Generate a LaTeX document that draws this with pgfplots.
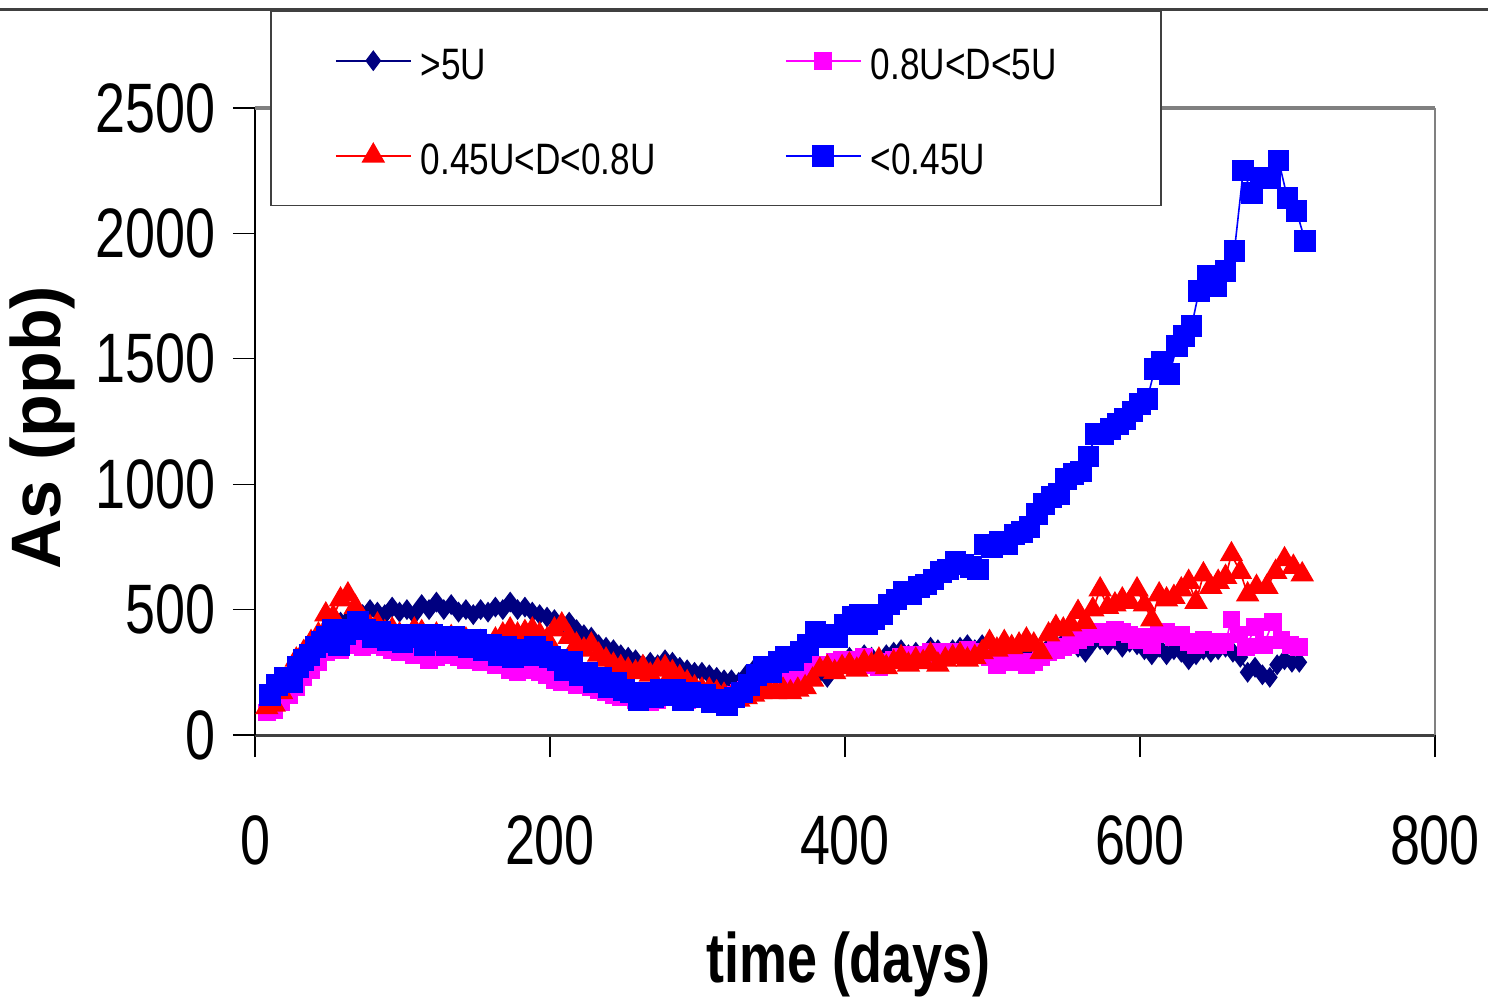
\documentclass[border=0pt]{standalone}
\usepackage{fontspec}
\setmainfont{Liberation Sans}
\newfontfamily\narrowfont{Liberation Sans}[FakeStretch=0.77]
\newfontfamily\legendfont{Liberation Sans}[FakeStretch=0.8]
\usepackage{pgfplots}
\pgfplotsset{compat=1.18}
\definecolor{navy}{RGB}{0,0,128}
\definecolor{pink}{RGB}{255,0,255}

\pgfplotstableread{
day val
8 120
13 150
18 190
23 230
28 270
33 300
38 340
43 370
48 400
53 430
58 450
63 460
68 470
73 480
78 500
83 490
88 480
93 510
98 490
103 500
108 480
113 520
118 500
123 530
128 500
133 520
138 490
143 500
148 480
153 500
158 490
163 510
168 500
173 530
178 500
183 510
188 490
193 480
198 470
203 460
208 440
213 450
218 420
223 400
228 390
233 360
238 350
243 340
248 320
253 310
258 300
263 280
268 290
273 280
278 300
283 290
288 270
293 260
298 250
303 250
308 240
313 230
318 220
323 220
328 210
333 240
338 260
343 230
348 240
353 220
358 230
363 240
368 250
373 240
378 260
383 250
388 230
393 270
398 280
403 310
408 300
413 320
418 310
423 290
428 320
433 330
438 340
443 320
448 330
453 310
458 350
463 340
468 320
473 340
478 350
483 360
488 340
493 360
498 370
503 330
508 320
513 340
518 330
523 320
528 340
533 330
538 350
543 360
548 370
553 380
558 350
563 330
568 370
573 380
578 360
583 380
588 350
593 370
598 360
603 340
608 320
613 350
618 320
623 340
628 330
633 300
638 320
643 340
648 330
653 340
658 350
663 330
668 310
673 250
678 270
683 240
688 230
693 280
698 300
703 290
708 290
}\navytable

\pgfplotstableread{
day val
8 90
13 100
18 130
23 160
28 190
33 230
38 260
43 290
48 330
53 350
58 340
63 360
68 370
73 350
78 360
83 370
88 350
93 340
98 330
103 340
108 320
113 330
118 300
123 310
128 320
133 330
138 310
143 300
148 310
153 290
158 300
163 280
168 290
173 260
178 250
183 270
188 260
193 250
198 240
203 220
208 210
213 220
218 200
223 210
228 190
233 180
238 170
243 160
248 150
253 160
258 140
263 150
268 130
273 140
278 150
283 160
288 150
293 140
298 150
303 160
308 170
313 160
318 150
323 160
328 170
333 180
338 190
343 200
348 210
353 220
358 230
363 240
368 250
373 250
378 270
383 280
388 280
393 290
398 300
403 290
408 300
413 310
418 280
423 270
428 290
433 300
438 310
443 320
448 320
453 310
458 330
463 320
468 330
473 320
478 330
483 340
488 330
493 320
498 310
503 280
508 290
513 300
518 290
523 280
528 290
533 310
538 330
543 340
548 350
553 360
558 380
563 390
568 400
573 410
578 390
583 420
588 410
593 400
598 380
603 390
608 360
613 400
618 410
623 390
628 400
633 370
638 360
643 380
648 370
653 360
658 370
662 460
667 400
672 350
678 430
684 360
690 450
696 380
702 360
708 350
}\magtable

\pgfplotstableread{
day val
8 110
13 120
18 170
23 230
28 300
33 330
38 370
43 400
48 480
53 470
58 540
63 560
68 510
73 460
78 430
83 440
88 410
93 420
98 400
103 390
108 420
113 410
118 380
123 400
128 380
133 390
138 370
143 380
148 360
153 370
158 350
163 380
168 400
173 420
178 400
183 410
188 420
193 400
198 380
203 420
208 440
213 390
218 360
223 340
228 360
233 320
238 300
243 280
248 270
253 260
258 250
263 270
268 240
273 260
278 270
283 250
288 230
293 210
298 190
303 180
308 180
313 170
318 160
323 150
328 140
333 150
338 160
343 170
348 180
353 170
358 180
363 170
368 180
373 190
378 220
383 260
388 270
393 250
398 270
403 280
408 260
413 290
418 280
423 300
428 270
433 290
438 310
443 280
448 300
453 290
458 320
463 280
468 300
473 310
478 320
483 300
488 310
493 330
498 370
503 340
508 370
513 350
518 360
523 380
528 360
533 330
538 400
543 430
548 420
553 440
558 490
563 450
568 500
573 580
578 510
583 520
588 540
593 530
598 580
603 520
608 460
613 560
618 540
623 550
628 580
633 610
638 530
643 640
648 590
653 610
658 630
662 720
668 650
673 560
679 590
686 590
692 650
698 700
704 670
710 640
}\redtable

\pgfplotstableread{
day val
10 160
15 200
20 230
25 210
29 270
33 300
37 320
41 350
45 370
49 390
53 420
57 360
61 400
65 420
70 450
75 420
80 390
85 410
90 380
95 400
100 370
105 400
110 390
115 360
120 400
125 380
130 360
135 390
140 370
145 350
150 380
155 340
160 360
165 320
170 350
175 310
180 340
185 320
190 350
195 330
200 310
205 300
210 260
215 290
220 240
225 250
230 210
235 230
240 190
245 210
250 180
255 170
260 140
265 170
270 150
275 180
280 160
285 180
290 140
295 170
300 150
305 160
310 130
315 140
320 120
325 150
330 170
335 200
340 240
345 270
350 250
355 290
360 310
365 300
370 330
375 360
380 410
385 390
390 400
395 390
400 440
405 470
410 480
415 440
420 460
425 480
430 520
435 540
440 570
445 560
450 590
455 600
460 620
465 650
470 660
475 690
480 680
485 670
490 660
495 760
500 750
505 770
510 760
515 800
520 810
525 830
530 880
535 920
540 950
545 960
550 1020
555 1040
560 1050
565 1110
570 1200
575 1200
580 1220
585 1240
590 1260
595 1290
600 1320
605 1340
610 1460
615 1490
620 1440
625 1550
630 1590
635 1630
640 1770
646 1830
652 1790
658 1850
664 1930
670 2250
676 2160
682 2220
688 2220
694 2290
700 2140
706 2090
712 1970
}\bluetable

\begin{document}
\begin{tikzpicture}
\useasboundingbox (-63.75pt,-65.25pt) rectangle (308.25pt,183.75pt);
\begin{axis}[
  at={(0pt,0pt)}, anchor=south west,
  scale only axis, width=295pt, height=156.75pt,
  xmin=0, xmax=800, ymin=0, ymax=2500,
  clip=false,
  axis x line*=bottom, axis y line*=left,
  x axis line style={black!75, line width=0.75pt},
  y axis line style={black, line width=0.4pt},
  tick align=outside, major tick length=5.5pt,
  tick style={black, line width=0.3pt},
  xtick={0,200,400,600,800}, xticklabels={0,200,400,600,800},
  ytick={0,500,1000,1500,2000,2500}, yticklabels={0,500,1000,1500,2000,2500},
  xticklabel style={font=\narrowfont\fontsize{17.5}{20}\selectfont, anchor=base, yshift=-26.75pt},
  yticklabel style={font=\narrowfont\fontsize{17.5}{20}\selectfont, anchor=east, inner sep=0pt, xshift=-4.25pt},
  xlabel={time (days)},
  xlabel style={at={(axis description cs:0.503,-0.394)}, anchor=base, font=\narrowfont\bfseries\fontsize{17.5}{20}\selectfont},
  ylabel={As (ppb)},
  ylabel style={at={(axis description cs:-0.1805,0.49)}, anchor=center, font=\bfseries\fontsize{17.5}{20}\selectfont},
  legend columns=2,
  legend style={at={(0.01271,1.1563)}, anchor=north west, draw=black!75, line width=0.4pt, fill=white,
    inner xsep=0pt, inner ysep=0.6pt, cells={anchor=west}, nodes={inner sep=0pt},
    column sep=0pt, row sep=0pt, font=\legendfont\fontsize{11}{13}\selectfont},
  legend image code/.code={
    \path[draw=none, fill=none] (0pt,-11.875pt) rectangle (37.5pt,11.875pt);
    \draw[mark repeat=2, mark phase=2] plot coordinates {(16.25pt,0pt) (25.625pt,0pt) (35pt,0pt)};
  },
]
\addplot[navy, line width=0.4pt, mark=diamond*, mark size=2.3pt, mark options={solid, fill=navy}] table[x=day, y=val] {\navytable};
\addlegendentry{\makebox[75pt][l]{\rule[-12.9pt]{0pt}{23.75pt}>5U}}
\addplot[pink, line width=0.4pt, mark=square*, mark size=2pt, mark options={solid, fill=pink}] table[x=day, y=val] {\magtable};
\addlegendentry{\makebox[72.5pt][l]{\rule[-12.9pt]{0pt}{23.75pt}0.8U<D<5U}}
\addplot[red, line width=0.4pt, mark=triangle*, mark size=3pt, mark options={solid, fill=red}] table[x=day, y=val] {\redtable};
\addlegendentry{\makebox[75pt][l]{\rule[-12.9pt]{0pt}{23.75pt}0.45U<D<0.8U}}
\addplot[blue, line width=0.4pt, mark=square*, mark size=2.5pt, mark options={solid, fill=blue}] table[x=day, y=val] {\bluetable};
\addlegendentry{\makebox[72.5pt][l]{\rule[-12.9pt]{0pt}{23.75pt}<0.45U}}
\draw[gray, line width=1pt] (rel axis cs:0,1) -- (rel axis cs:1,1);
\draw[gray, line width=0.5pt] (rel axis cs:1,1) -- (rel axis cs:1,0);
\end{axis}
\draw[black!75, line width=0.75pt] (-63.75pt,181.25pt) -- (308.25pt,181.25pt);
\end{tikzpicture}
\end{document}
